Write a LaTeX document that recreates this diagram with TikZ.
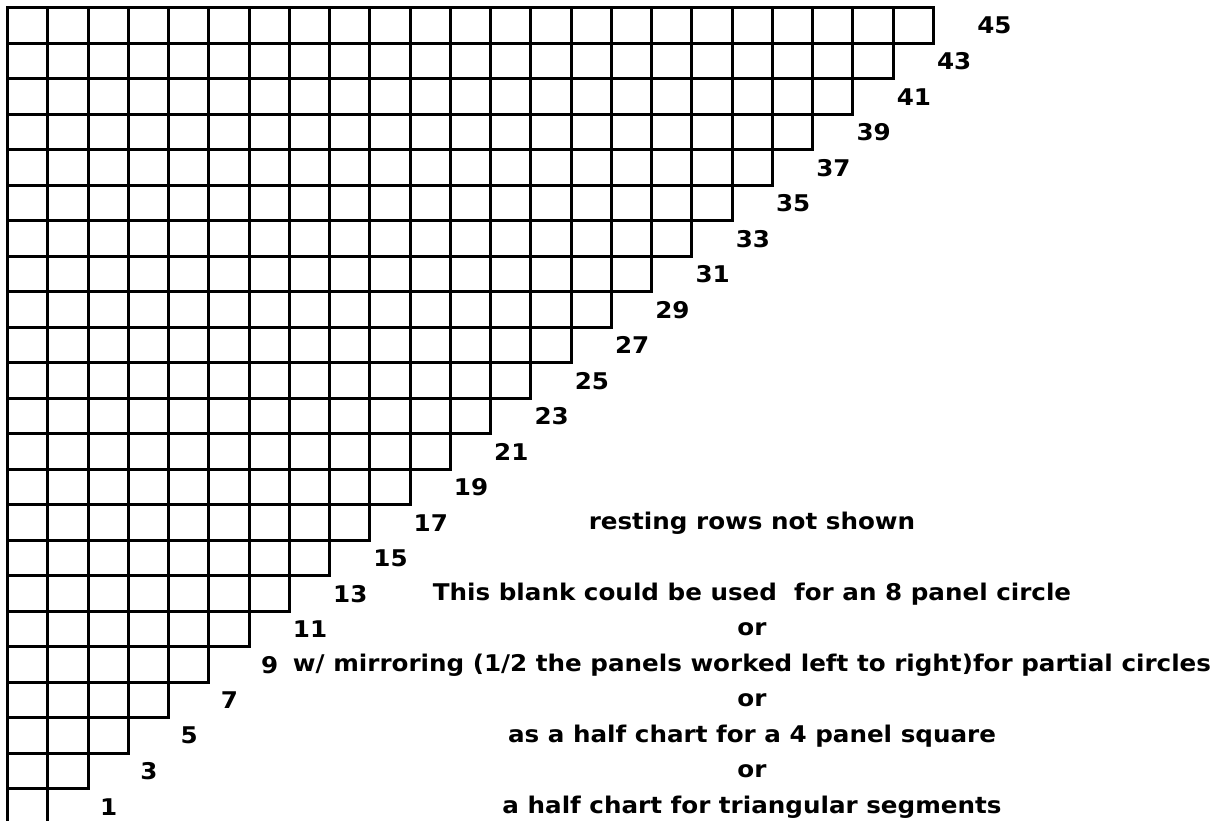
\documentclass[tikz,border=0pt]{standalone}
\usepackage{fontspec}
\setmainfont{DejaVu Sans}
\newfontfamily\vfont{DejaVu Sans}[FakeStretch=1.07]
\begin{document}
\begin{tikzpicture}[x=1pt,y=-1pt,
  cell/.style={draw=black,line width=3pt},
  num/.style={font=\vfont\bfseries\fontsize{23}{26}\selectfont,inner sep=0pt,anchor=center},
  note/.style={font=\vfont\bfseries\fontsize{23}{26}\selectfont,inner sep=0pt,anchor=center}]
\useasboundingbox (0,0) rectangle (1226,821);
\clip (0,0) rectangle (1226,821);
\foreach \i in {1,...,23} {
  \pgfmathtruncatemacro\n{24-\i}
  \pgfmathtruncatemacro\lab{2*\n-1}
  \pgfmathsetmacro\ya{7.5+round((\i-1)*35.5)}
  \pgfmathsetmacro\yb{7.5+round(\i*35.5)}
  \foreach \j in {1,...,\n} {
    \pgfmathsetmacro\xa{7.5+round((\j-1)*40.26)}
    \pgfmathsetmacro\xb{7.5+round(\j*40.26)}
    \draw[cell] (\xa,\ya) rectangle (\xb,\yb);
  }
  \node[num] (l\lab) at ({7.5+\n*40.26+61},{8+(\i-0.5)*35.5}) {\lab};
}
\node[note] (t1) at (752,522.75) {resting rows not shown};
\node[note] (t2) at (752,593.75) {This blank could be used\ \ for an 8 panel circle};
\node[note] (t3) at (752,629.25) {or};
\node[note] (t4) at (752,664.75) {w/ mirroring (1/2 the panels worked left to right)for partial circles};
\node[note] (t5) at (752,700.25) {or};
\node[note] (t6) at (752,735.75) {as a half chart for a 4 panel square};
\node[note] (t7) at (752,771.25) {or};
\node[note] (t8) at (752,806.75) {a half chart for triangular segments};
\end{tikzpicture}
\end{document}
